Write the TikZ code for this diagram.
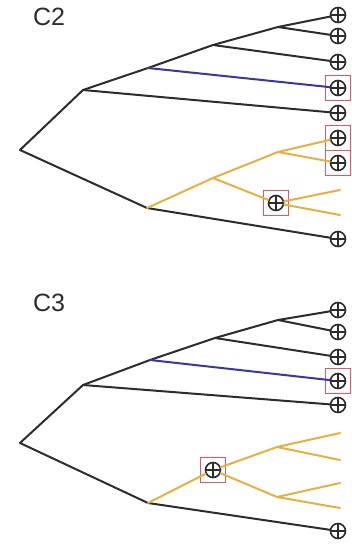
\documentclass[tikz,border=0pt]{standalone}
\usepackage{fontspec}
\setmainfont{Liberation Sans}
\definecolor{edgegray}{HTML}{2C2C2C}
\definecolor{orng}{HTML}{E8B040}
\definecolor{blu}{HTML}{3A36A0}
\definecolor{boxred}{HTML}{DE5868}
\tikzset{
  tedge/.style={draw=edgegray, line width=2pt, line cap=round, line join=round},
  oedge/.style={draw=orng, line width=2pt, line cap=round, line join=round},
  bedge/.style={draw=blu, line width=2pt, line cap=round},
  leaf/.style={circle, draw=edgegray, line width=1.6pt, minimum size=15pt, inner sep=0pt, fill=white,
    path picture={\draw[edgegray, line width=1.3pt] (path picture bounding box.north) -- (path picture bounding box.south)
      (path picture bounding box.west) -- (path picture bounding box.east);}},
  redbox/.style={rectangle, draw=boxred, line width=1.6pt, minimum size=25pt, inner sep=0pt},
  panellabel/.style={font=\fontsize{25}{29}\selectfont, text=edgegray}
}
\begin{document}
\begin{tikzpicture}[x=1pt,y=-1pt]
\useasboundingbox (0,0) rectangle (351,545);
% ---------------- C2 ----------------
\node[panellabel] (lblC2) at (49,17) {C2};
\coordinate (r2) at (20,150);
\coordinate (a2) at (83,90);
\coordinate (b2) at (148,68);
\coordinate (c2) at (213,45);
\coordinate (d2) at (278,27);
\coordinate (e2) at (147,208);
\coordinate (f2) at (213,178);
\coordinate (g2) at (278,152);
\coordinate (h2a) at (340,190);
\coordinate (h2b) at (340,215);
\node[redbox] (bx2a) at (338,88) {};
\node[redbox] (bx2b) at (338,138) {};
\node[redbox] (bx2c) at (338,163) {};
\node[redbox] (bx2h) at (276,203) {};
\node[leaf] (p1) at (338,15) {};
\node[leaf] (p2) at (338,36) {};
\node[leaf] (p3) at (338,62) {};
\node[leaf] (p4) at (338,88) {};
\node[leaf] (p5) at (338,113) {};
\node[leaf] (p6) at (338,138) {};
\node[leaf] (p7) at (338,163) {};
\node[leaf] (p8) at (338,239) {};
\node[leaf] (hh2) at (276,203) {};
\draw[tedge] (a2) -- (r2) -- (e2);
\draw[tedge] (a2) -- (b2) -- (c2) -- (d2) -- (p1);
\draw[tedge] (d2) -- (p2);
\draw[tedge] (c2) -- (p3);
\draw[bedge] (b2) -- (p4);
\draw[tedge] (a2) -- (p5);
\draw[tedge] (e2) -- (p8);
\draw[oedge] (e2) -- (f2) -- (g2) -- (p6);
\draw[oedge] (g2) -- (p7);
\draw[oedge] (f2) -- (hh2);
\draw[oedge] (hh2) -- (h2a);
\draw[oedge] (hh2) -- (h2b);
% ---------------- C3 ----------------
\node[panellabel] (lblC3) at (49,303) {C3};
\coordinate (r3) at (20,443);
\coordinate (a3) at (83,385);
\coordinate (b3) at (150,360);
\coordinate (c3) at (215,338);
\coordinate (d3) at (278,320);
\coordinate (e3) at (148,503);
\coordinate (g3a) at (277,447);
\coordinate (g3b) at (277,497);
\coordinate (t1) at (340,433);
\coordinate (t2) at (340,460);
\coordinate (t3) at (340,483);
\coordinate (t4) at (340,508);
\node[redbox] (bx3a) at (338,381) {};
\node[redbox] (bx3h) at (213,470) {};
\node[leaf] (q1) at (338,310) {};
\node[leaf] (q2) at (338,332) {};
\node[leaf] (q3) at (338,357) {};
\node[leaf] (q4) at (338,381) {};
\node[leaf] (q5) at (338,405) {};
\node[leaf] (q6) at (338,531) {};
\node[leaf] (hh3) at (213,470) {};
\draw[tedge] (a3) -- (r3) -- (e3);
\draw[tedge] (a3) -- (b3) -- (c3) -- (d3) -- (q1);
\draw[tedge] (d3) -- (q2);
\draw[tedge] (c3) -- (q3);
\draw[bedge] (b3) -- (q4);
\draw[tedge] (a3) -- (q5);
\draw[tedge] (e3) -- (q6);
\draw[oedge] (e3) -- (hh3);
\draw[oedge] (hh3) -- (g3a) -- (t1);
\draw[oedge] (g3a) -- (t2);
\draw[oedge] (hh3) -- (g3b) -- (t3);
\draw[oedge] (g3b) -- (t4);
\end{tikzpicture}
\end{document}
